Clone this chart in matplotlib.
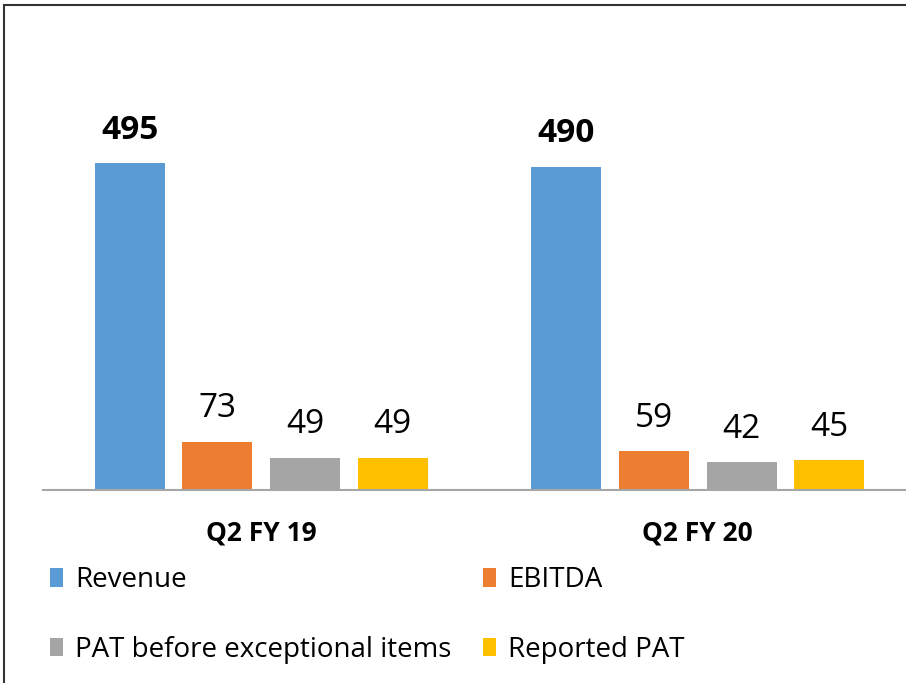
import numpy as np
import matplotlib.pyplot as plt
from matplotlib.patches import Rectangle

quarters = ["Q2 FY 19", "Q2 FY 20"]
series = ["Revenue", "EBITDA", "PAT before exceptional items", "Reported PAT"]
revenue = [495, 490]
ebitda = [73, 59]
pat_before = [49, 42]
reported_pat = [49, 45]
colors = ["#5B9BD5", "#ED7D31", "#A5A5A5", "#FFC000"]

plt.rcParams['font.family'] = ['Open Sans', 'DejaVu Sans']

fig = plt.figure(figsize=(9.06, 6.83), dpi=100)
ax = fig.add_axes([43/906, 193/683, 873/906, 396/683])

x = np.arange(len(quarters))
step = 0.2005
width = 0.1604
values = [revenue, ebitda, pat_before, reported_pat]
bars = []
for i, (name, vals) in enumerate(zip(series, values)):
    b = ax.bar(x + (i - 1.5) * step, vals, width, color=colors[i], label=name)
    bars.append(b)
    for xi, v in zip(x + (i - 1.5) * step, vals):
        ax.text(xi, v + 25, str(v), ha="center", va="bottom", fontsize=24,
                fontweight="bold" if i == 0 else "normal")

ax.set_xlim(-0.5, 1.5)
ax.set_ylim(0, 600)
ax.set_yticks([])
ax.set_xticks(x)
ax.set_xticklabels(quarters, fontsize=19, fontweight="bold")
ax.tick_params(axis="x", length=0, pad=21)
for s in ["top", "left", "right"]:
    ax.spines[s].set_visible(False)
ax.spines["bottom"].set_color("#A6A6A6")
ax.spines["bottom"].set_linewidth(1.5)

# legend is filled row by row in the original
order = [0, 2, 1, 3]
fig.legend(handles=[bars[k] for k in order], labels=[series[k] for k in order],
           ncol=2, loc="upper left", bbox_to_anchor=(50/906, 1 - 566/683),
           frameon=False, fontsize=20, handlelength=0.45, handleheight=0.65,
           handletextpad=0.45, columnspacing=1.15, labelspacing=1.5,
           borderpad=0, borderaxespad=0)

fig.patches.append(Rectangle((4/906, -0.1), 2, 1 - 5/683 + 0.1, transform=fig.transFigure,
                             fill=False, edgecolor="#333333", linewidth=1.5))

plt.savefig("out.png", dpi=100)
